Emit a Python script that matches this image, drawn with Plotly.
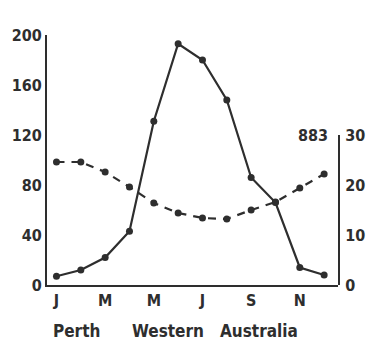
import plotly.graph_objects as go

months = ["J", "F", "M", "A", "M", "J", "J", "A", "S", "O", "N", "D"]
precip_mm = [7, 12, 22, 43, 131, 193, 180, 148, 86, 66, 14, 8]
temp_c = [24.6, 24.6, 22.6, 19.6, 16.4, 14.4, 13.4, 13.2, 15.0, 16.6, 19.4, 22.2]
x_tick_idx = [0, 2, 4, 6, 8, 10]
x_tick_text = ["J", "M", "M", "J", "S", "N"]
left_ticks = [0, 40, 80, 120, 160, 200]
right_ticks = [0, 10, 20, 30]
annual_total = "883"

ink = "#2e2e2e"
font_fam = "DejaVu Sans Condensed"
x = list(range(12))

fig = go.Figure()
fig.add_trace(go.Scatter(
    x=x, y=precip_mm, mode="lines+markers",
    line=dict(color=ink, width=2.2),
    marker=dict(color=ink, size=7),
    yaxis="y", showlegend=False, cliponaxis=False))
fig.add_trace(go.Scatter(
    x=x, y=temp_c, mode="lines+markers",
    line=dict(color=ink, width=2.2, dash="8px,7px"),
    marker=dict(color=ink, size=7),
    yaxis="y2", showlegend=False, cliponaxis=False))

tickfont = dict(family=font_fam, size=16, color=ink, weight="bold")

plot_l, plot_r, plot_b = 43, 348, 285

fig.update_layout(
    width=377, height=351,
    margin=dict(l=43, r=29, t=35, b=66),
    paper_bgcolor="white", plot_bgcolor="rgba(0,0,0,0)",
    xaxis=dict(
        range=[-0.39, 11.57], tickmode="array", tickvals=x_tick_idx,
        ticktext=x_tick_text, showgrid=False, zeroline=False,
        showline=True, linecolor=ink, linewidth=2, ticks="",
        tickfont=tickfont, ticklabelstandoff=0),
    yaxis=dict(
        range=[0, 200], tickvals=left_ticks, showgrid=False, zeroline=False,
        showline=True, linecolor=ink, linewidth=2, ticks="",
        tickfont=tickfont, ticklabelstandoff=0),
    yaxis2=dict(
        range=[0, 30], domain=[0, 0.6], anchor="x", side="right",
        tickvals=right_ticks, showgrid=False, zeroline=False,
        showline=True, linecolor=ink, linewidth=2, ticks="",
        tickfont=tickfont, ticklabelstandoff=2),
)

fig.add_annotation(x=10.55, y=120, xref="x", yref="y", text=annual_total,
                   showarrow=False, font=tickfont)
plot_w = plot_r - plot_l
for txt, px in [("Perth", 47), ("Western", 130), ("Australia", 222)]:
    fig.add_annotation(x=(px - plot_l) / plot_w, y=-(331 - plot_b) / 250,
                       xref="paper", yref="paper",
                       xanchor="left", yanchor="middle", text=txt,
                       showarrow=False,
                       font=dict(family=font_fam, size=17, color=ink, weight="bold"))

fig.write_html("out.html")
